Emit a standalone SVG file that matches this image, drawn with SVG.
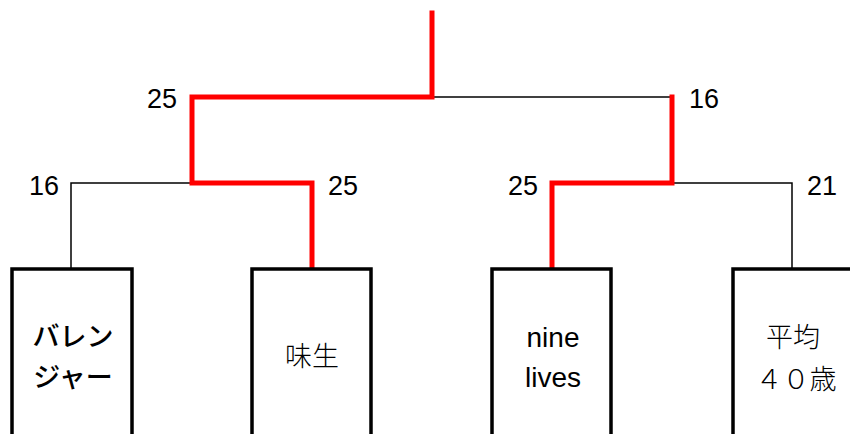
<svg xmlns="http://www.w3.org/2000/svg" width="850" height="434" viewBox="0 0 850 434">
<style>
.box{fill:#fff;stroke:#000;stroke-width:3.5}
.thin{fill:none;stroke:#000;stroke-width:1.5}
.win{fill:none;stroke:#ff0000;stroke-width:5;stroke-linejoin:miter;stroke-linecap:square}
.score{font-family:"Liberation Sans",Arial,sans-serif;font-size:27px;fill:#000}
.name{font-family:"Liberation Sans","Noto Sans CJK JP",sans-serif;font-size:28px;fill:#000;text-anchor:middle}
.jp{font-family:"Noto Sans CJK JP",sans-serif;font-size:27px;fill:#000;text-anchor:middle}
</style>
<rect width="850" height="434" fill="#fff"/>
<g id="connectors">
<path class="thin" d="M71 268V183H192"/>
<path class="thin" d="M432 97H672"/>
<path class="thin" d="M672 183H792V268"/>
<path class="win" d="M432 13V97H192V183H312V267"/>
<path class="win" d="M672 97V183H552V267"/>
</g>
<g id="scores">
<text class="score" x="147" y="108">25</text>
<text class="score" x="689" y="108">16</text>
<text class="score" x="29" y="195">16</text>
<text class="score" x="328" y="195">25</text>
<text class="score" x="508" y="195">25</text>
<text class="score" x="807" y="195">21</text>
</g>
<g id="node-ballenger">
<rect class="box" x="12" y="269" width="120" height="180"/>
<text class="jp" x="73" y="346" font-weight="500">バレン</text>
<text class="jp" x="73" y="387" font-weight="500">ジャー</text>
</g>
<g id="node-ajisei">
<rect class="box" x="252" y="269" width="119" height="180"/>
<text class="jp" x="312" y="366" font-weight="300">味生</text>
</g>
<g id="node-ninelives">
<rect class="box" x="492" y="269" width="119" height="180"/>
<text class="name" x="553" y="347">nine</text>
<text class="name" x="553" y="387">lives</text>
</g>
<g id="node-heikin">
<rect class="box" x="733" y="269" width="120" height="180"/>
<text class="jp" x="793" y="347" font-weight="300">平均</text>
<text class="jp" x="796" y="389" font-weight="300">４０歳</text>
</g>
</svg>
